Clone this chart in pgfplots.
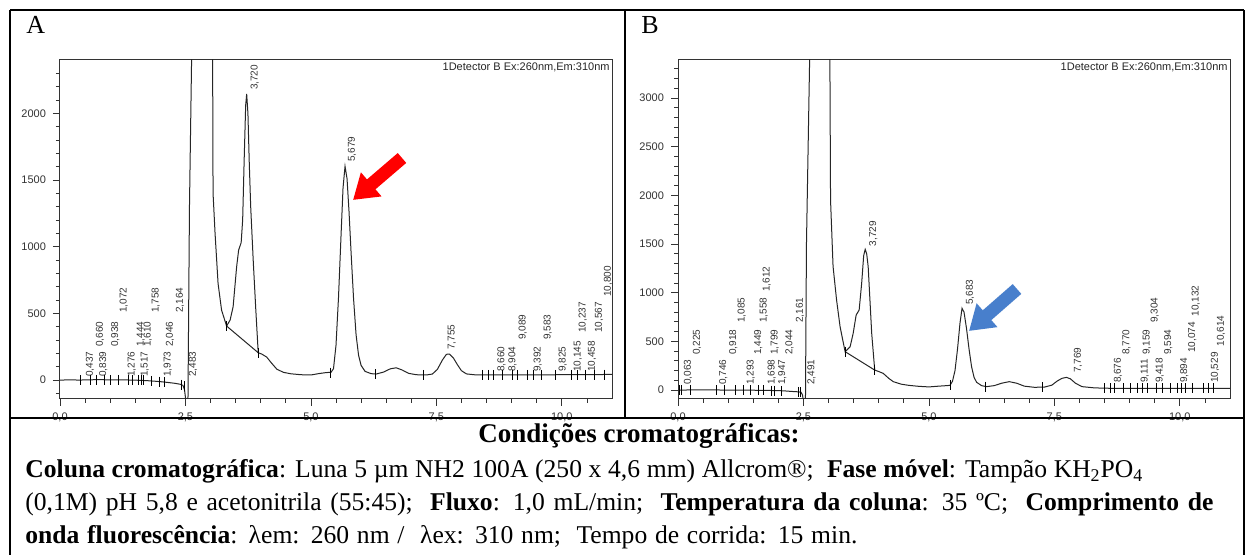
\documentclass[border=0pt]{standalone}
\usepackage{fontspec}
\setmainfont{Liberation Serif}
\setsansfont{Liberation Sans}
\usepackage{pgfplots}
\pgfplotsset{compat=1.18}
\usetikzlibrary{arrows.meta}
\definecolor{arrowblue}{RGB}{72,127,204}
\definecolor{arrowred}{RGB}{255,0,0}
\pgfplotsset{
  chrom/.style={
    scale only axis, anchor=south west,
    width=276pt, height=169.5pt,
    xmin=0, xmax=11,
    xtick={0,2.5,5,7.5,10},
    minor xtick={0.5,1,...,10.5},
    tick pos=left, tick align=outside,
    major tick length=3.5pt, minor tick length=2pt,
    axis line style={black!80, line width=0.5pt},
    tick style={black!80, line width=0.4pt},
    /pgf/number format/assume math mode=true,
    ticklabel style={font=\fontsize{5.5}{6}\selectfont\sffamily, text=black!80},
    xticklabel style={/pgf/number format/.cd, fixed, fixed zerofill, precision=1, use comma},
    yticklabel style={/pgf/number format/.cd, fixed, precision=0, 1000 sep={}},
  },
  curve/.style={black!85, line width=0.5pt, no marks},
  intmark/.style={only marks, mark=|, mark size=2.5pt, black, mark options={line width=0.4pt}},
}
\tikzset{lab/.style={rotate=90, anchor=west, inner sep=0pt, font=\fontsize{5}{5}\selectfont\sffamily, text=black!80}}
\newcommand\lab[3]{\node[lab] at (axis cs:#1,#2) {#3};}
\begin{document}
\begin{tikzpicture}[x=0.5pt,y=0.5pt]
\useasboundingbox (0,0) rectangle (1255,555);
\fill[white] (0,0) rectangle (1255,555);

% ---------------- Panel A ----------------
\begin{axis}[chrom, at={(30pt,78pt)}, ymin=-142, ymax=2400,
  ytick={0,500,1000,1500,2000}, minor ytick={-100,0,...,2300}]
\addplot[curve] coordinates {
(0.0,0) (0.2,1) (0.4,0) (0.6,2) (0.8,3) (1.0,1) (1.2,2) (1.4,0) (1.6,-2) (1.8,-6) (2.0,-12)
(2.15,-18) (2.3,-25) (2.40,-32) (2.45,-40) (2.48,-70) (2.51,-160) (2.55,-160) (2.58,1300)
(2.63,2600) (3.04,2600) (3.05,1400) (3.09,1100) (3.15,724) (3.22,524) (3.32,405)
(3.39,450) (3.45,550) (3.52,850) (3.56,975) (3.61,1030) (3.64,1200) (3.67,1650) (3.70,2060)
(3.72,2145) (3.745,2000) (3.77,1650) (3.80,1300) (3.85,900) (3.90,540) (3.95,205)
(4.02,195) (4.12,172) (4.22,125) (4.32,82) (4.45,58) (4.6,47) (4.8,40) (5.0,38) (5.15,48)
(5.3,56) (5.40,58) (5.45,85) (5.50,260) (5.55,620) (5.60,1080) (5.64,1440) (5.68,1603)
(5.72,1510) (5.76,1260) (5.80,960) (5.85,610) (5.90,340) (5.95,185) (6.00,110) (6.08,65)
(6.2,48) (6.3,45) (6.45,60) (6.58,84) (6.70,92) (6.82,75) (6.95,50) (7.1,40) (7.3,38)
(7.42,45) (7.52,80) (7.62,150) (7.70,193) (7.76,195) (7.84,165) (7.92,115) (8.0,70)
(8.1,46) (8.3,38) (9.0,38) (10.0,40) (11.0,42)};
\addplot[curve] coordinates {(3.32,405) (3.95,205)};
\addplot[intmark] coordinates {
(0.40,0) (0.61,1) (0.73,2) (0.88,2) (1.00,1) (1.16,1) (1.36,1) (1.45,0) (1.56,-1) (1.63,-2)
(1.67,-3) (1.83,-7) (1.99,-12) (2.09,-15) (2.42,-35) (2.48,-45)
(3.32,405) (3.95,205)
(5.38,56) (6.29,45) (7.25,38) (8.42,38) (8.53,38) (8.64,38) (8.81,38) (9.01,38) (9.12,38)
(9.32,38) (9.43,38) (9.60,38) (9.87,38) (10.19,40) (10.31,40) (10.47,40) (10.64,40) (10.84,40)};
\lab{0.60}{22}{0,437}
\lab{0.80}{247}{0,660}
\lab{0.86}{22}{0,839}
\lab{1.10}{247}{0,938}
\lab{1.27}{502}{1,072}
\lab{1.43}{22}{1,276}
\lab{1.61}{247}{1,444}
\lab{1.69}{22}{1,517}
\lab{1.75}{247}{1,610}
\lab{1.91}{502}{1,758}
\lab{2.15}{22}{1,973}
\lab{2.19}{247}{2,046}
\lab{2.39}{502}{2,164}
\lab{2.65}{22}{2,483}
\lab{3.88}{2172}{3,720}
\lab{5.82}{1633}{5,679}
\lab{7.81}{225}{7,755}
\lab{8.80}{60}{8,660}
\lab{9.02}{60}{8,904}
\lab{9.22}{300}{9,089}
\lab{9.52}{60}{9,392}
\lab{9.72}{300}{9,583}
\lab{10.02}{60}{9,825}
\lab{10.32}{60}{10,145}
\lab{10.42}{352}{10,237}
\lab{10.60}{60}{10,458}
\lab{10.74}{352}{10,567}
\lab{10.92}{622}{10,800}
\end{axis}

% ---------------- Panel B ----------------
\begin{axis}[chrom, at={(339pt,78pt)}, ymin=-92, ymax=3390,
  ytick={0,500,1000,1500,2000,2500,3000}, minor ytick={100,200,...,3300}]
\addplot[curve] coordinates {
(0,0) (0.5,1) (1.0,0) (1.5,-2) (1.9,-5) (2.1,-8) (2.25,-14) (2.38,-18) (2.45,-22) (2.48,-50)
(2.50,-110) (2.54,-110) (2.56,1500) (2.63,3600) (3.025,3600) (3.04,1950) (3.09,1270)
(3.16,925) (3.23,650) (3.33,394) (3.43,445) (3.49,580) (3.55,770) (3.61,822) (3.66,1096)
(3.70,1380) (3.73,1445) (3.76,1400) (3.79,1267) (3.86,582) (3.92,205) (4.0,190) (4.09,171)
(4.2,120) (4.29,86) (4.45,60) (4.6,48) (4.8,38) (5.0,32) (5.2,40) (5.35,45) (5.42,48)
(5.47,90) (5.52,200) (5.57,420) (5.62,690) (5.66,839) (5.70,800) (5.75,630) (5.80,420)
(5.85,240) (5.90,130) (5.95,80) (6.05,45) (6.15,35) (6.3,45) (6.45,70) (6.6,86) (6.75,70)
(6.9,40) (7.1,28) (7.3,30) (7.45,50) (7.55,90) (7.65,120) (7.74,130) (7.82,115) (7.92,70)
(8.05,35) (8.3,22) (8.6,18) (9,18) (10,18) (11,18)};
\addplot[curve] coordinates {(3.33,394) (3.92,205)};
\addplot[intmark] coordinates {
(0.03,0) (0.07,0) (0.24,1) (0.76,0) (0.92,0) (1.14,0) (1.31,-1) (1.45,-1) (1.60,-2) (1.71,-3)
(1.86,-5) (1.93,-6) (2.06,-9) (2.39,-18) (2.44,-21)
(3.33,394) (3.92,205)
(5.42,48) (6.13,35) (7.26,30) (8.49,20) (8.61,18) (8.70,18) (8.87,18) (9.02,18) (9.15,18)
(9.25,18) (9.36,18) (9.54,18) (9.66,18) (9.81,18) (9.96,18) (10.03,18) (10.11,18) (10.25,18)
(10.47,18) (10.57,18) (10.67,18)};
\lab{0.20}{51}{0,063}
\lab{0.38}{360}{0,225}
\lab{0.90}{51}{0,746}
\lab{1.10}{360}{0,918}
\lab{1.27}{688}{1,085}
\lab{1.45}{51}{1,293}
\lab{1.60}{360}{1,449}
\lab{1.71}{688}{1,558}
\lab{1.77}{1007}{1,612}
\lab{1.87}{51}{1,698}
\lab{1.93}{360}{1,799}
\lab{2.08}{51}{1,947}
\lab{2.22}{360}{2,044}
\lab{2.43}{688}{2,161}
\lab{2.66}{51}{2,491}
\lab{3.89}{1472}{3,729}
\lab{5.82}{873}{5,683}
\lab{7.97}{175}{7,769}
\lab{8.77}{69}{8,676}
\lab{8.94}{360}{8,770}
\lab{9.30}{69}{9,111}
\lab{9.34}{360}{9,159}
\lab{9.50}{688}{9,304}
\lab{9.60}{69}{9,418}
\lab{9.77}{360}{9,594}
\lab{10.09}{69}{9,894}
\lab{10.25}{380}{10,074}
\lab{10.32}{753}{10,132}
\lab{10.70}{69}{10,529}
\lab{10.82}{445}{10,614}
\end{axis}

% detector texts
\node[anchor=north east, inner sep=0.5pt, font=\fontsize{5.5}{6}\selectfont\sffamily, text=black!85] at (611,494) {1Detector B Ex:260nm,Em:310nm};
\node[anchor=north east, inner sep=0.5pt, font=\fontsize{5.5}{6}\selectfont\sffamily, text=black!85] at (1229,494) {1Detector B Ex:260nm,Em:310nm};

% arrows
\draw[arrowred, line width=6.5pt, -{Triangle[width=15pt,length=12pt]}] (402,397) -- (353,355);
\draw[arrowblue, line width=6.5pt, -{Triangle[width=15pt,length=12pt]}] (1017,266) -- (969,224);

% panel letters
\node[anchor=base west, inner sep=0pt, font=\fontsize{13}{13}\selectfont] at (26,521) {A};
\node[anchor=base west, inner sep=0pt, font=\fontsize{13}{13}\selectfont] at (641,521) {B};

% frame
\draw[black, line width=1.3pt] (10,545) -- (1244,545);
\draw[black, line width=1.3pt] (10,545) -- (10,-1);
\draw[black, line width=1.3pt] (1244,545) -- (1244,-1);
\draw[black, line width=1.3pt] (625,545) -- (625,137);
\draw[black, line width=1.3pt] (10,137) -- (1244,137);

% conditions text
\node[anchor=base, inner sep=0pt, font=\fontsize{13.5}{15}\selectfont] at (639,112) {\textbf{Condições cromatográficas:}};
\node[anchor=base west, inner sep=0pt, font=\fontsize{12.8}{15}\selectfont] at (25,77) {\makebox[559pt][s]{\textbf{Coluna cromatográfica}: Luna 5 µm NH2 100A (250 x 4,6 mm) Allcrom®;\ \ \textbf{Fase móvel}: Tampão KH\textsubscript{2}PO\textsubscript{4}}};
\node[anchor=base west, inner sep=0pt, font=\fontsize{12.8}{15}\selectfont] at (25,44) {\makebox[594pt][s]{(0,1M) pH 5,8 e acetonitrila (55:45);\ \ \textbf{Fluxo}: 1,0 mL/min;\ \ \textbf{Temperatura da coluna}: 35 ºC;\ \ \textbf{Comprimento de}}};
\node[anchor=base west, inner sep=0pt, font=\fontsize{12.8}{15}\selectfont] at (25,11) {\makebox[416pt][s]{\textbf{onda fluorescência}: λem: 260 nm /\ \ λex: 310 nm;\ \ Tempo de corrida: 15 min.}};
\end{tikzpicture}
\end{document}
